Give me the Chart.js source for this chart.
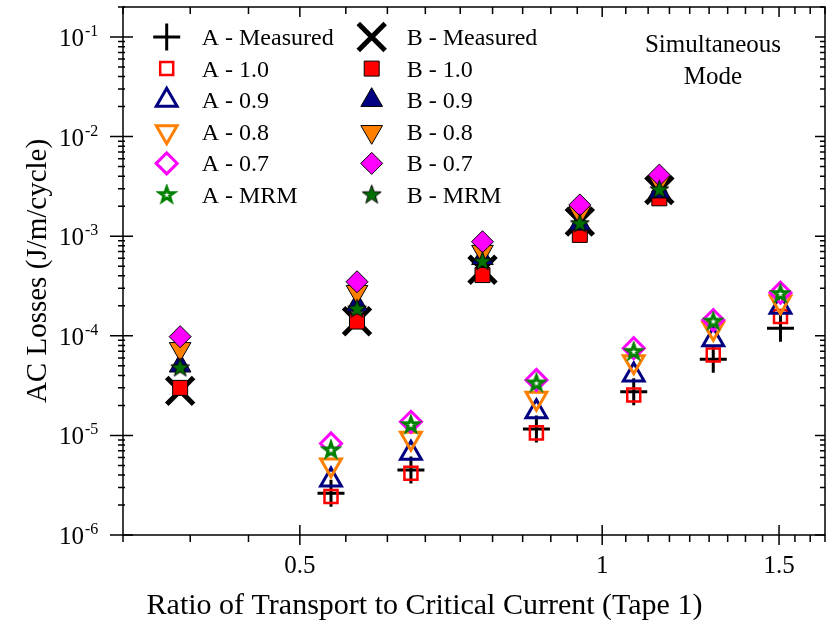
<!DOCTYPE html>
<html>
<head>
<meta charset="utf-8">
<script src="https://cdn.jsdelivr.net/npm/chart.js@4/dist/chart.umd.min.js"></script>
<style>
  html, body { margin: 0; padding: 0; background: #fff; }
  #wrap { width: 827px; height: 630px; }
</style>
</head>
<body>
<div id="wrap"><canvas id="lossChart"></canvas></div>
<script>
// ratio of transport to critical current
const xA = [0.537, 0.645, 0.86, 1.075, 1.29, 1.505];
const xB = [0.38, 0.57, 0.76, 0.95, 1.14];

// AC losses, J/m/cycle
const aMeasured = [2.62e-6, 4.5e-6, 1.16e-5, 2.75e-5, 5.8e-5, 1.19e-4];
const a10 = [2.43e-6, 4.17e-6, 1.06e-5, 2.55e-5, 6.4e-5, 1.56e-4];
const a09 = [3.57e-6, 6.6e-6, 1.73e-5, 4.04e-5, 9.1e-5, 1.93e-4];
const a08 = [5.04e-6, 9.35e-6, 2.36e-5, 5.5e-5, 1.19e-4, 2.2e-4];
const a07 = [8.3e-6, 1.37e-5, 3.6e-5, 7.5e-5, 1.44e-4, 2.71e-4];
const aMRM = [7.1e-6, 1.27e-5, 3.33e-5, 6.9e-5, 1.39e-4, 2.63e-4];

const bMeasured = [2.8e-5, 1.4e-4, 4.6e-4, 1.4e-3, 2.9e-3];
const b10 = [3.0e-5, 1.39e-4, 4.07e-4, 1.03e-3, 2.4e-3];
const b09 = [5.0e-5, 2.04e-4, 6.0e-4, 1.33e-3, 2.8e-3];
const b08 = [7.4e-5, 2.77e-4, 7.0e-4, 1.71e-3, 3.52e-3];
const b07 = [9.8e-5, 3.49e-4, 8.8e-4, 2.06e-3, 4.11e-3];
const bMRM = [4.75e-5, 1.85e-4, 5.55e-4, 1.33e-3, 2.91e-3];

const xTickLabels = [0.5, 1, 1.5];
const yDecades = [-6, -5, -4, -3, -2, -1];

const serif = "'Liberation Serif', 'Times New Roman', serif";

function makeStar(outer, fill, stroke, lw) {
    const size = Math.ceil(outer * 2 + lw + 4);
    const c = document.createElement('canvas');
    c.width = size;
    c.height = size;
    const g = c.getContext('2d');
    const inner = outer * 0.4;
    g.beginPath();
    for (let i = 0; i < 10; i++) {
        const r = i % 2 ? inner : outer;
        const ang = -Math.PI / 2 + i * Math.PI / 5;
        const px = size / 2 + r * Math.cos(ang);
        const py = size / 2 + r * Math.sin(ang);
        if (i) g.lineTo(px, py); else g.moveTo(px, py);
    }
    g.closePath();
    g.fillStyle = fill;
    g.fill();
    g.lineWidth = lw;
    g.strokeStyle = stroke;
    g.stroke();
    return c;
}

const clear = 'rgba(0,0,0,0)';
const starOpen = makeStar(7.5, '#fff', '#008000', 3);
const starFull = makeStar(10, '#007000', '#000', 1);

function series(label, xs, ys, style) {
    return Object.assign({
        label: label,
        data: xs.map((x, i) => ({ x: x, y: ys[i] })),
        showLine: false
    }, style);
}

const datasets = [
    series('A - Measured', xA, aMeasured, { pointStyle: 'cross', pointRadius: 13.5, pointBorderColor: '#000', pointBackgroundColor: clear, pointBorderWidth: 3, order: 6 }),
    series('A - 1.0', xA, a10, { pointStyle: 'rect', pointRadius: 9.2, pointBorderColor: '#ff0000', pointBackgroundColor: clear, pointBorderWidth: 2.5, order: 5 }),
    series('A - 0.9', xA, a09, { pointStyle: 'triangle', pointRadius: 12, pointBorderColor: '#000080', pointBackgroundColor: clear, pointBorderWidth: 3, order: 4 }),
    series('A - 0.8', xA, a08, { pointStyle: 'triangle', pointRotation: 180, pointRadius: 12, pointBorderColor: '#ff8000', pointBackgroundColor: clear, pointBorderWidth: 3, order: 3 }),
    series('A - 0.7', xA, a07, { pointStyle: 'rectRot', pointRadius: 10.5, pointBorderColor: '#ff00ff', pointBackgroundColor: clear, pointBorderWidth: 3, order: 2 }),
    series('A - MRM', xA, aMRM, { pointStyle: starOpen, pointRadius: 10, order: 1 }),
    series('B - Measured', xB, bMeasured, { pointStyle: 'crossRot', pointRadius: 19, pointBorderColor: '#000', pointBackgroundColor: clear, pointBorderWidth: 5, order: 6 }),
    series('B - 1.0', xB, b10, { pointStyle: 'rect', pointRadius: 10.6, pointBorderColor: '#000', pointBackgroundColor: '#ff0000', pointBorderWidth: 1, order: 5 }),
    series('B - 0.9', xB, b09, { pointStyle: 'triangle', pointRadius: 12.5, pointBorderColor: '#000', pointBackgroundColor: '#000080', pointBorderWidth: 1, order: 4 }),
    series('B - 0.8', xB, b08, { pointStyle: 'triangle', pointRotation: 180, pointRadius: 12.5, pointBorderColor: '#000', pointBackgroundColor: '#ff8000', pointBorderWidth: 1, order: 3 }),
    series('B - 0.7', xB, b07, { pointStyle: 'rectRot', pointRadius: 11, pointBorderColor: '#000', pointBackgroundColor: '#ff00ff', pointBorderWidth: 1, order: 2 }),
    series('B - MRM', xB, bMRM, { pointStyle: starFull, pointRadius: 10, order: 1 })
];

// frame, ticks, y labels, legend and the mode note
const decorations = {
    id: 'decorations',
    afterDatasetsDraw(chart) {
        const ctx = chart.ctx;
        const a = chart.chartArea;
        const x = chart.scales.x;
        const y = chart.scales.y;
        ctx.save();
        ctx.strokeStyle = '#000';
        ctx.lineWidth = 1.5;
        ctx.strokeRect(a.left, a.top, a.right - a.left, a.bottom - a.top);

        ctx.beginPath();
        yDecades.forEach(e => {
            for (let m = 1; m <= 9; m++) {
                const v = m * Math.pow(10, e);
                if (v > y.max * 1.001) continue;
                const py = y.getPixelForValue(v);
                const major = m === 1;
                ctx.moveTo(a.left - (major ? 13 : 5), py);
                ctx.lineTo(a.left + (major ? 10 : 2), py);
                ctx.moveTo(a.right - (major ? 10 : 5), py);
                ctx.lineTo(a.right, py);
            }
        });
        for (let k = 0; k <= 24; k++) {
            const v = 1 / 3 + k / 18;
            const px = x.getPixelForValue(v);
            const major = xTickLabels.some(t => Math.abs(t - v) < 1e-6);
            ctx.moveTo(px, a.bottom - (major ? 10 : 0));
            ctx.lineTo(px, a.bottom + (major ? 10 : 7));
            ctx.moveTo(px, a.top);
            ctx.lineTo(px, a.top + (major ? 10 : 7));
        }
        ctx.stroke();

        ctx.fillStyle = '#000';
        ctx.textBaseline = 'alphabetic';
        yDecades.forEach(e => {
            const py = y.getPixelForValue(Math.pow(10, e));
            ctx.font = '25px ' + serif;
            ctx.textAlign = 'right';
            ctx.fillText('10', 84, py + 9);
            ctx.font = '16px ' + serif;
            ctx.textAlign = 'left';
            ctx.fillText(String(e), 85, py - 1);
        });

        ctx.font = '24px ' + serif;
        chart.data.datasets.forEach((ds, i) => {
            const col = i < 6 ? 0 : 1;
            const rowY = 37 + (i % 6) * 31.6;
            const mx = col ? 371.7 : 166.7;
            ctx.save();
            ctx.fillStyle = ds.pointBackgroundColor || clear;
            ctx.strokeStyle = ds.pointBorderColor || '#000';
            ctx.lineWidth = ds.pointBorderWidth || 1;
            Chart.helpers.drawPoint(ctx, {
                pointStyle: ds.pointStyle,
                radius: ds.pointRadius,
                rotation: ds.pointRotation || 0,
                borderWidth: ds.pointBorderWidth || 0
            }, mx, rowY);
            ctx.restore();
            ctx.textAlign = 'left';
            ctx.fillText(ds.label, mx + 35, rowY + 8);
        });

        ctx.textAlign = 'center';
        ctx.font = '25px ' + serif;
        ctx.fillText('Simultaneous', 713, 52);
        ctx.fillText('Mode', 713, 84);
        ctx.restore();
    }
};

new Chart(document.getElementById('lossChart'), {
    type: 'scatter',
    data: { datasets: datasets },
    options: {
        responsive: true,
        maintainAspectRatio: false,
        animation: false,
        layout: { autoPadding: false, padding: { top: 7, right: 2, left: 24, bottom: 0 } },
        plugins: {
            legend: { display: false },
            tooltip: { enabled: false },
            title: {
                display: true,
                position: 'bottom',
                text: 'Ratio of Transport to Critical Current (Tape 1)',
                color: '#000',
                font: { family: serif, size: 30, weight: 'normal', lineHeight: 1.2 },
                padding: { top: 0, bottom: 6 }
            }
        },
        scales: {
            x: {
                type: 'logarithmic',
                bounds: 'data',
                min: 1 / 3,
                max: 5 / 3,
                grid: { display: false, drawTicks: false },
                border: { display: false },
                afterBuildTicks: scale => {
                    scale.ticks = xTickLabels.map(v => ({ value: v }));
                },
                afterFit: scale => { scale.height = 53; },
                ticks: {
                    autoSkip: false,
                    maxRotation: 0,
                    padding: 16,
                    color: '#000',
                    font: { family: serif, size: 25 },
                    callback: v => String(v)
                }
            },
            y: {
                type: 'logarithmic',
                bounds: 'data',
                min: 1e-6,
                max: 0.2,
                grid: { display: false, drawTicks: false },
                border: { display: false },
                ticks: { display: false },
                afterFit: scale => { scale.width = 99; },
                title: {
                    display: true,
                    text: 'AC Losses (J/m/cycle)',
                    color: '#000',
                    font: { family: serif, size: 29, lineHeight: 1 },
                    padding: { top: 0, bottom: 0 }
                }
            }
        }
    },
    plugins: [decorations]
});
</script>
